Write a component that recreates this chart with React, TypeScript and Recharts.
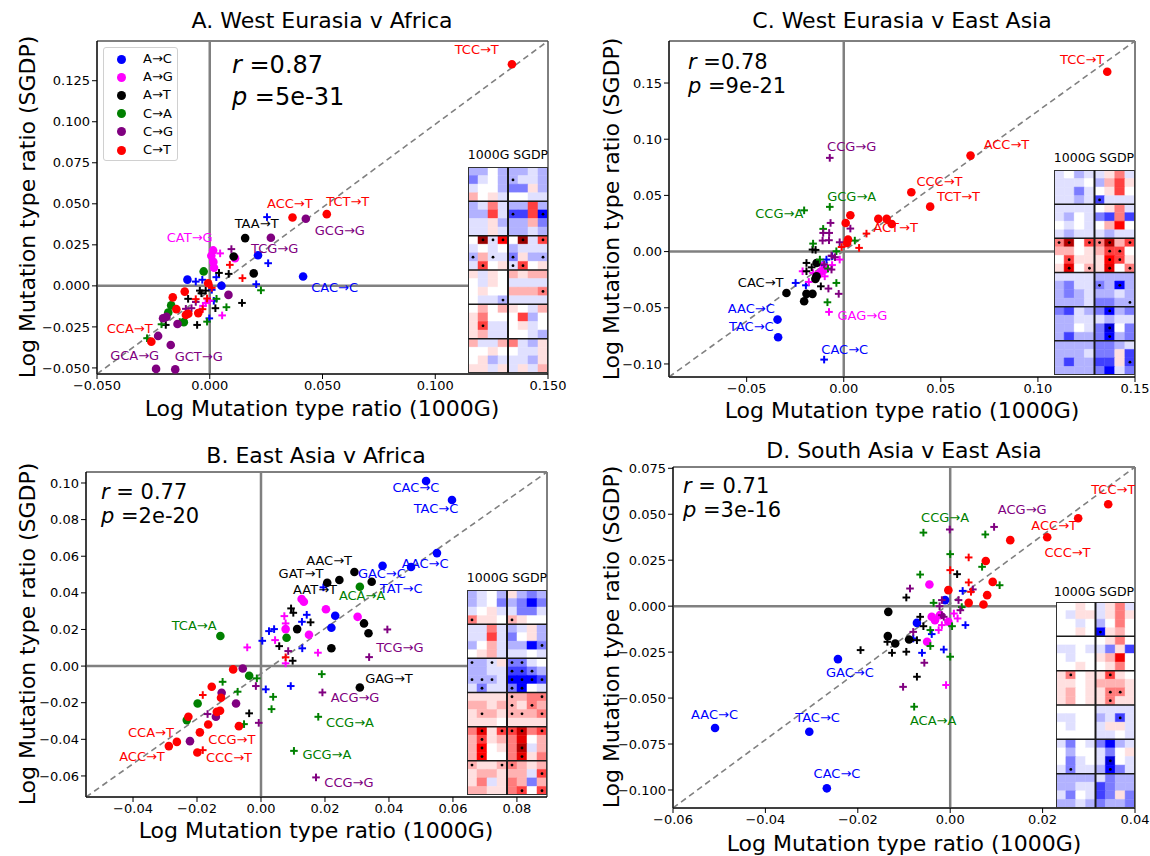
import React from 'react';
import { ScatterChart, Scatter, XAxis, YAxis, ReferenceLine, ReferenceArea } from 'recharts';

const FONT = '"DejaVu Sans", Verdana, sans-serif';
const CLASSES = ['A→C', 'A→G', 'A→T', 'C→A', 'C→G', 'C→T'];
const COLORS = ['#0000ff', '#ff00ff', '#000000', '#008000', '#800080', '#ff0000'];

type Pt = [number, string, number, number];
type Lab = [string, number, number, number];

// ---------------- Panel A: West Eurasia v Africa ----------------
const ptsA: Pt[] = [
  [0, 'o', 0.0414, 0.0057], [0, 'o', 0.0214, 0.0187], [0, 'o', -0.0099, 0.0038], [0, 'o', 0.0052, 0.0001],
  [0, '+', 0.0254, 0.0419], [0, '+', 0.0259, 0.0138], [0, '+', -0.0062, 0.0026], [0, '+', -0.0033, 0.0037], [0, '+', 0.0029, 0.0053], [0, '+', 0.0206, 0.001], [0, '+', -0.0002, -0.0198], [0, '+', 0.0009, -0.0024], [0, '+', 0.0018, -0.0091],
  [1, 'o', 0.0015, 0.0216], [1, 'o', 0.0007, 0.0183], [1, 'o', 0.0016, 0.0146], [1, 'o', 0.0019, 0.011], [1, 'o', 0.0112, 0.0169],
  [1, '+', 0.0046, 0.0198], [1, '+', 0.0055, -0.018], [1, '+', -0.003, -0.0122], [1, '+', 0.0, -0.009], [1, '+', -0.0044, -0.0155], [1, '+', -0.0018, -0.0104],
  [2, 'o', 0.0157, 0.0291], [2, 'o', 0.0106, 0.0179], [2, 'o', 0.0195, 0.0076],
  [2, '+', 0.0041, 0.0079], [2, '+', 0.0084, 0.0073], [2, '+', -0.0044, -0.0029], [2, '+', -0.0018, -0.0029], [2, '+', -0.0037, -0.0045], [2, '+', 0.0143, -0.0104], [2, '+', 0.0025, -0.0136], [2, '+', -0.0096, -0.0079], [2, '+', -0.0056, -0.0238], [2, '+', -0.0195, -0.0238],
  [3, 'o', -0.0027, 0.0088], [3, 'o', -0.0171, -0.0119], [3, 'o', -0.0184, -0.0162], [3, 'o', -0.0115, -0.0221],
  [3, '+', 0.0227, -0.0027], [3, '+', 0.003, -0.0079], [3, '+', 0.0074, -0.013], [3, '+', -0.0012, -0.0218], [3, '+', -0.0214, -0.0234], [3, '+', -0.0278, -0.0319], [3, '+', -0.0133, -0.022],
  [4, 'o', 0.0426, 0.0409], [4, 'o', 0.0271, 0.0293], [4, 'o', 0.0083, -0.0055], [4, 'o', -0.0207, -0.0197], [4, 'o', -0.0192, -0.0189], [4, 'o', -0.0143, -0.0232], [4, 'o', -0.0229, -0.0305], [4, 'o', -0.0173, -0.036], [4, 'o', -0.0238, -0.0506], [4, 'o', -0.0153, -0.0509],
  [4, '+', 0.0096, 0.0224], [4, '+', -0.0081, -0.0136], [4, '+', -0.0062, -0.0098], [4, '+', -0.0106, -0.014],
  [5, 'o', 0.134, 0.135], [5, 'o', 0.0367, 0.0417], [5, 'o', 0.0519, 0.0437], [5, 'o', -0.0007, 0.0016], [5, 'o', -0.0111, -0.0035], [5, 'o', -0.0164, -0.007], [5, 'o', -0.0148, -0.0142], [5, 'o', -0.0106, -0.0177], [5, 'o', -0.0095, -0.017], [5, 'o', -0.0051, -0.0166], [5, 'o', -0.0259, -0.034],
  [5, '+', 0.0089, 0.0128], [5, '+', 0.0145, 0.0047], [5, '+', -0.0012, -0.0077], [5, '+', -0.0062, -0.0081], [5, '+', -0.0032, -0.0142], [5, '+', 0.0009, -0.0012],
];
const labsA: Lab[] = [
  ['TCC→T', 5, 0.1184, 0.1439], ['ACC→T', 5, 0.0355, 0.05], ['TCT→T', 5, 0.0612, 0.0512], ['GCG→G', 4, 0.0577, 0.0335],
  ['TAA→T', 2, 0.0208, 0.0378], ['CAT→G', 1, -0.0089, 0.0293], ['TCG→G', 4, 0.0288, 0.0226], ['CAC→C', 0, 0.0554, -0.0012],
  ['CCA→T', 5, -0.0355, -0.0262], ['GCA→G', 4, -0.0333, -0.0427], ['GCT→G', 4, -0.0049, -0.0433],
];
const xTicksA = [-0.05, 0, 0.05, 0.1, 0.15];
const yTicksA = [-0.05, -0.025, 0, 0.025, 0.05, 0.075, 0.1, 0.125];

// ---------------- Panel C: West Eurasia v East Asia ----------------
const ptsC: Pt[] = [
  [0, 'o', -0.0341, -0.0605], [0, 'o', -0.0338, -0.0762],
  [0, '+', -0.0101, -0.0961], [0, '+', -0.0248, -0.0279], [0, '+', -0.0195, -0.03], [0, '+', -0.0089, -0.0071], [0, '+', -0.011, -0.012], [0, '+', -0.006, -0.004],
  [1, 'o', -0.0115, -0.0175], [1, 'o', -0.0098, -0.016], [1, 'o', -0.0132, -0.0205],
  [1, '+', -0.0076, -0.0537], [1, '+', -0.0021, -0.0071], [1, '+', -0.0212, -0.0175], [1, '+', -0.0123, -0.0101], [1, '+', -0.0158, -0.019], [1, '+', -0.0098, -0.022], [1, '+', -0.018, -0.027], [1, '+', -0.006, -0.012],
  [2, 'o', -0.0295, -0.0368], [2, 'o', -0.0204, -0.0442], [2, 'o', -0.0192, -0.0376], [2, 'o', -0.0161, -0.0376], [2, 'o', -0.0146, -0.0243], [2, 'o', -0.014, -0.0101], [2, 'o', -0.014, -0.022],
  [2, '+', -0.0161, 0.0018], [2, '+', -0.0192, -0.0101], [2, '+', -0.0192, -0.0175], [2, '+', -0.0118, -0.0309], [2, '+', -0.0145, 0.0015], [2, '+', -0.0165, -0.014],
  [3, '+', -0.0204, 0.0367], [3, '+', -0.0072, 0.0398], [3, '+', -0.0106, 0.0202], [3, '+', -0.0158, 0.0071], [3, '+', 0.0057, 0.0098], [3, '+', -0.0038, -0.0279], [3, '+', -0.0084, -0.0451], [3, '+', -0.0081, -0.0151], [3, '+', -0.0123, -0.0071], [3, '+', -0.0038, 0.0003],
  [4, '+', -0.0072, 0.0834], [4, '+', -0.0068, 0.0255], [4, '+', -0.0109, 0.0098], [4, '+', -0.0076, 0.0101], [4, '+', -0.0021, 0.0083], [4, '+', 0.0034, 0.0205], [4, '+', -0.0063, -0.0036], [4, '+', -0.0079, -0.0329], [4, '+', -0.0026, -0.0376], [4, '+', -0.0063, -0.016], [4, '+', -0.0106, 0.0166], [4, '+', -0.0075, 0.0166], [4, '+', -0.0101, -0.0115], [4, '+', -0.0045, -0.005],
  [5, 'o', 0.1357, 0.16], [5, 'o', 0.0653, 0.0854], [5, 'o', 0.0348, 0.0528], [5, 'o', 0.0445, 0.04], [5, 'o', 0.0178, 0.0291], [5, 'o', 0.0221, 0.0291], [5, 'o', 0.0247, 0.0246], [5, 'o', 0.0034, 0.0323], [5, 'o', 0.001, 0.0255], [5, 'o', 0.0022, 0.0107], [5, 'o', 0.0017, 0.0077],
  [5, '+', 0.0117, 0.016], [5, '+', 0.0079, 0.0033], [5, '+', -0.0011, 0.0041],
];
const labsC: Lab[] = [
  ['TCC→T', 5, 0.1228, 0.1708], ['ACC→T', 5, 0.0838, 0.0952], ['CCC→T', 5, 0.0493, 0.0623], ['TCT→T', 5, 0.0591, 0.0489],
  ['ACT→T', 5, 0.0267, 0.0214], ['CCG→G', 4, 0.0041, 0.0931], ['GCG→A', 3, 0.0041, 0.0492], ['CCG→A', 3, -0.0332, 0.0335],
  ['CAC→T', 2, -0.0428, -0.0279], ['AAC→C', 0, -0.0476, -0.051], ['TAC→C', 0, -0.0476, -0.0665], ['CAC→C', 0, 0.0005, -0.0872],
  ['GAG→G', 1, 0.0096, -0.0569],
];
const xTicksC = [-0.05, 0, 0.05, 0.1, 0.15];
const yTicksC = [-0.1, -0.05, 0, 0.05, 0.1, 0.15];

// ---------------- Panel B: East Asia v Africa ----------------
const ptsB: Pt[] = [
  [0, 'o', 0.0516, 0.1011], [0, 'o', 0.0597, 0.0907], [0, 'o', 0.055, 0.0617], [0, 'o', 0.038, 0.0548], [0, 'o', 0.0469, 0.0541], [0, 'o', 0.0232, 0.0275], [0, 'o', 0.022, 0.0209],
  [0, '+', 0.0143, 0.028], [0, '+', 0.0128, 0.0242], [0, '+', 0.0041, 0.0202], [0, '+', 0.0025, 0.0191], [0, '+', 0.0004, 0.0138], [0, '+', 0.0129, 0.0097], [0, '+', 0.0015, -0.0127], [0, '+', 0.0093, -0.0109], [0, '+', 0.0195, 0.043],
  [1, 'o', 0.0127, 0.0366], [1, 'o', 0.0134, 0.0351], [1, 'o', 0.0203, 0.031], [1, 'o', 0.0077, 0.0202], [1, 'o', 0.015, 0.0171], [1, 'o', 0.0302, 0.0269],
  [1, '+', 0.0073, 0.0273], [1, '+', 0.0077, 0.0233], [1, '+', 0.0044, 0.0142], [1, '+', -0.0043, 0.0102], [1, '+', 0.0178, 0.0073], [1, '+', 0.0077, 0.0015],
  [2, 'o', 0.0292, 0.0514], [2, 'o', 0.0245, 0.047], [2, 'o', 0.0207, 0.0455], [2, 'o', 0.0346, 0.0461], [2, 'o', 0.0322, 0.0233], [2, 'o', 0.0336, 0.0179], [2, 'o', 0.0113, 0.0202], [2, 'o', 0.022, 0.0097], [2, 'o', 0.0309, -0.0117],
  [2, '+', 0.0094, 0.0315], [2, '+', 0.0101, 0.0291], [2, '+', 0.0155, 0.0239], [2, '+', 0.0057, 0.0109], [2, '+', 0.0099, 0.0029], [2, '+', -0.0037, -0.0258],
  [3, 'o', 0.0309, 0.0433], [3, 'o', -0.0127, 0.0164], [3, 'o', 0.008, 0.0155], [3, 'o', -0.0037, -0.0053], [3, 'o', -0.0198, -0.0204], [3, 'o', -0.0232, -0.0295],
  [3, '+', 0.019, -0.0044], [3, '+', -0.0013, -0.0067], [3, '+', 0.0038, -0.0168], [3, '+', 0.0033, -0.0235], [3, '+', 0.0179, -0.0277], [3, '+', 0.0103, -0.0463], [3, '+', -0.012, -0.0086], [3, '+', -0.0073, -0.014], [3, '+', -0.0053, -0.0317],
  [4, 'o', -0.0057, -0.0013], [4, 'o', -0.0123, -0.0146], [4, 'o', -0.0078, -0.0204], [4, 'o', -0.0141, -0.0277], [4, 'o', -0.0222, -0.041],
  [4, '+', 0.0395, 0.02], [4, '+', 0.0338, 0.0049], [4, '+', 0.0085, 0.0082], [4, '+', -0.0016, -0.0109], [4, '+', 0.0192, -0.0144], [4, '+', -0.0007, -0.031], [4, '+', 0.0172, -0.0608], [4, '+', -0.0167, -0.0262],
  [5, 'o', -0.0087, -0.0018], [5, 'o', -0.0154, -0.0113], [5, 'o', -0.0125, -0.0173], [5, 'o', -0.0138, -0.025], [5, 'o', -0.0128, -0.0244], [5, 'o', -0.0227, -0.0277], [5, 'o', -0.0165, -0.0319], [5, 'o', -0.0191, -0.0362], [5, 'o', -0.0263, -0.0414], [5, 'o', -0.0288, -0.0437], [5, 'o', -0.0069, -0.0328], [5, 'o', -0.0199, -0.0472],
  [5, '+', -0.0182, -0.0158], [5, '+', -0.0182, -0.0459], [5, '+', 0.0077, 0.0048],
];
const labsB: Lab[] = [
  ['CAC→C', 0, 0.0484, 0.0973], ['TAC→C', 0, 0.0547, 0.0858], ['AAC→C', 0, 0.0513, 0.0563], ['GAC→C', 0, 0.0378, 0.0508],
  ['TAT→C', 0, 0.0438, 0.0426], ['AAC→T', 2, 0.0213, 0.0579], ['GAT→T', 2, 0.0125, 0.0508], ['AAT→T', 2, 0.0169, 0.0421],
  ['ACA→A', 3, 0.0316, 0.0388], ['TCA→A', 3, -0.0209, 0.0219], ['TCG→G', 4, 0.0434, 0.0104], ['GAG→T', 2, 0.04, -0.0066],
  ['ACG→G', 4, 0.0294, -0.0169], ['CCG→A', 3, 0.0278, -0.0306], ['GCG→A', 3, 0.0206, -0.0481], ['CCG→G', 4, 0.0275, -0.0634],
  ['CCA→T', 5, -0.0344, -0.036], ['ACC→T', 5, -0.0372, -0.0492], ['CCG→T', 5, -0.0091, -0.0399], ['CCC→T', 5, -0.01, -0.0497],
];
const xTicksB = [-0.04, -0.02, 0, 0.02, 0.04, 0.06, 0.08];
const yTicksB = [-0.06, -0.04, -0.02, 0, 0.02, 0.04, 0.06, 0.08, 0.1];

// ---------------- Panel D: South Asia v East Asia ----------------
const ptsD: Pt[] = [
  [0, 'o', -0.0243, -0.0288], [0, 'o', -0.0509, -0.0663], [0, 'o', -0.0305, -0.0683], [0, 'o', -0.0267, -0.0991], [0, 'o', -0.0072, -0.0091], [0, 'o', -0.0011, 0.0033],
  [0, '+', 0.0027, 0.0083], [0, '+', 0.0033, -0.0103], [0, '+', -0.0014, -0.0236], [0, '+', -0.0061, -0.0254], [0, '+', -0.004, -0.0152], [0, '+', -0.008, -0.0176],
  [1, 'o', -0.0045, 0.0118], [1, 'o', -0.004, -0.0058], [1, 'o', -0.0033, -0.0076], [1, 'o', -0.0022, -0.0049], [1, 'o', -0.0004, -0.0085], [1, 'o', -0.005, -0.0194],
  [1, '+', 0.0016, -0.0067], [1, '+', -0.0018, -0.0103], [1, '+', -0.0025, -0.013], [1, '+', -0.0009, -0.0429], [1, '+', 0.0008, -0.004],
  [2, 'o', -0.0134, -0.0031], [2, 'o', -0.0135, -0.0163], [2, 'o', -0.0119, -0.0203], [2, 'o', -0.0089, -0.0181],
  [2, '+', 0.0015, 0.0174], [2, '+', -0.0095, 0.0047], [2, '+', -0.0065, -0.0058], [2, '+', -0.0058, -0.0109], [2, '+', -0.0072, -0.0185], [2, '+', -0.0126, -0.0254], [2, '+', -0.0095, -0.0248], [2, '+', -0.0072, -0.0384], [2, '+', -0.0194, -0.0239], [2, '+', -0.0136, -0.0194],
  [3, '+', -0.0058, 0.04], [3, '+', 0.0076, 0.039], [3, '+', 0.0069, 0.0214], [3, '+', 0.0107, 0.0114], [3, '+', -0.0065, 0.0172], [3, '+', 0.0, 0.0283], [3, '+', -0.0036, 0.0018], [3, '+', -0.0043, -0.013], [3, '+', -0.0043, -0.0217], [3, '+', 0.0, -0.0275], [3, '+', 0.0004, -0.0109], [3, '+', -0.0078, -0.0547], [3, '+', 0.0025, -0.0005],
  [4, '+', 0.0095, 0.0431], [4, '+', -0.0001, 0.0417], [4, '+', -0.0087, 0.0096], [4, '+', 0.0049, 0.0091], [4, '+', -0.0018, 0.0033], [4, '+', -0.0023, 0.0], [4, '+', 0.0018, 0.0033], [4, '+', 0.0022, -0.0022], [4, '+', -0.0014, -0.0058], [4, '+', -0.0056, -0.0308], [4, '+', -0.0102, -0.0439], [4, '+', -0.008, -0.014], [4, '+', -0.0018, -0.0049],
  [5, 'o', 0.0342, 0.0554], [5, 'o', 0.0277, 0.0478], [5, 'o', 0.021, 0.0375], [5, 'o', 0.013, 0.0359], [5, 'o', 0.0077, 0.0246], [5, 'o', 0.0092, 0.0132], [5, 'o', 0.008, 0.006], [5, 'o', 0.004, 0.0018], [5, 'o', 0.0072, 0.0009], [5, 'o', -0.0004, 0.0087],
  [5, '+', 0.004, 0.0265], [5, '+', 0.004, 0.0129], [5, '+', 0.0045, 0.0078], [5, '+', 0.0, 0.0196],
];
const labsD: Lab[] = [
  ['TCC→T', 5, 0.0353, 0.0636], ['ACC→T', 5, 0.0225, 0.044], ['CCC→T', 5, 0.0254, 0.0293], ['ACG→G', 4, 0.0156, 0.0525],
  ['CCG→A', 3, -0.0011, 0.0484], ['GAC→C', 0, -0.0217, -0.0359], ['AAC→C', 0, -0.051, -0.0587], ['TAC→C', 0, -0.0287, -0.0603],
  ['CAC→C', 0, -0.0245, -0.0913], ['ACA→A', 3, -0.0037, -0.062],
];
const xTicksD = [-0.06, -0.04, -0.02, 0, 0.02, 0.04];
const yTicksD = [-0.1, -0.075, -0.05, -0.025, 0, 0.025, 0.05, 0.075];

// ---------------- Heatmap insets (4 cols 1000G + 4 cols SGDP, 24 rows) ----------------
const heatA: number[][] = [
  [-2, -2, 0, -2, -2, -2, -1, -2], [-3, -1, 0, -2, -2, -1, -1, -2], [-1, 0, 0, -2, -3, -3, 1, -2], [2, 0, 1, -1, 0, 0, -1, -1],
  [-2, -1, 3, -1, -2, -2, 4, -2], [-2, -2, 4, -1, -4, -4, 4, -5], [-1, -1, 1, -2, -2, -2, 2, -3], [-1, -1, 1, -1, -2, -2, -1, -2],
  [0, 9, -1, 5, 0, 9, -1, 4], [-1, 0, -1, 0, -2, -1, -1, -1], [-2, 2, -1, -1, -3, 1, -2, -2], [-1, 4, 0, 1, -1, 4, 0, 1],
  [1, -1, 1, 0, 2, 1, 2, 2], [0, -1, 1, 0, -1, -1, -1, -1], [0, 1, 0, 0, 2, 2, 2, 3], [0, -1, -1, -2, -1, -1, -1, -1],
  [0, 2, 0, 2, 1, 0, -1, 2], [1, 3, 0, 0, 0, 4, -2, 0], [1, 4, -1, -1, 0, 1, -1, 0], [1, 2, -1, -1, 0, 0, -1, -2],
  [2, -1, -1, 2, 3, -1, -2, 1], [0, 0, 1, 0, 0, -1, -1, 1], [0, 1, -2, -1, -1, -1, -2, 1], [1, 1, -1, 1, -1, 1, -1, 2],
];
const sigA: number[][] = [[1, 4], [5, 4], [5, 7], [8, 1], [8, 2], [8, 3], [8, 5], [8, 7], [10, 0], [10, 2], [10, 4], [10, 7], [11, 1], [11, 4], [11, 5], [14, 7], [15, 3], [18, 1]];

const heatC: number[][] = [
  [-1, 0, -2, -1, -1, 1, 3, -1], [-1, -1, -1, 0, -2, 2, 4, 1], [-1, -1, -3, -1, 0, 1, 4, 0], [-1, -1, -2, -1, -4, -1, -1, -1],
  [-1, -1, -1, -1, 0, 1, 3, -1], [-1, -2, 0, -1, -3, -4, 3, -4], [0, -1, 0, -1, 0, 2, 5, 0], [-1, -2, -1, -1, -1, -2, -1, -1],
  [3, 8, 0, 4, 3, 8, 2, 4], [2, 2, 0, 1, 2, 4, 4, 0], [0, 4, 1, 1, 1, 5, 4, 1], [1, 6, 0, 2, 1, 6, 0, 3],
  [-1, -1, -1, -1, -2, -2, -2, -2], [-2, -3, -1, -1, -3, -2, -5, -2], [-2, -3, -2, -1, -2, -2, -1, -2], [-2, -2, -2, -1, -3, -3, -2, -2],
  [-3, -4, -1, -2, -3, -5, -2, -3], [-2, -2, -1, -1, -1, -2, -1, -1], [-2, -2, 0, -1, -3, -6, 0, -3], [-2, -4, -2, -2, -3, -5, -2, -3],
  [-2, -2, -2, -2, -3, -3, -2, -1], [-2, -2, -2, -1, -3, -3, 1, -4], [-2, -4, -2, -2, -4, -4, 1, -4], [-2, -2, -2, -2, -3, -5, -1, -3],
];
const sigC: number[][] = [[3, 4], [8, 0], [8, 1], [8, 3], [8, 4], [8, 5], [8, 7], [9, 5], [9, 6], [10, 1], [10, 5], [10, 6], [11, 1], [11, 3], [11, 5], [11, 7], [13, 4], [13, 6], [15, 7], [16, 5], [18, 5], [19, 5], [22, 7]];

const heatB: number[][] = [
  [-2, -1, 0, -2, 1, -2, -3, -2], [-2, -1, 0, -3, -2, -3, -5, -3], [-1, 0, 1, -1, -1, -3, -3, -1], [3, 1, 1, 0, 2, 1, 0, 0],
  [-1, -1, 3, -1, -2, -1, 1, -2], [-1, -1, 4, -1, -3, 0, 1, -2], [-2, 0, 2, -1, -2, -2, -5, -3], [0, 1, 2, -1, -1, -1, 0, -1],
  [-2, -2, -1, 1, -3, -3, -1, 0], [-2, -2, -1, -1, -4, -4, -3, -2], [-2, -2, -2, -1, -5, -5, -5, -4], [-1, -3, -1, -1, -3, -5, 0, -1],
  [1, 1, 1, 1, 2, 2, 3, 3], [2, 2, 1, 2, 2, 1, 3, 2], [1, 2, 2, 1, 2, 2, 2, 3], [1, 1, 1, 0, 1, 1, 1, 1],
  [3, 6, 1, 4, 4, 7, 3, 4], [2, 4, 1, 2, 3, 6, 0, 2], [2, 5, 0, 1, 3, 8, -1, 2], [2, 5, 0, 0, 3, 6, 1, 3],
  [2, 1, 1, 2, 3, 2, 1, 2], [1, 2, 2, 1, 2, 2, -1, 4], [1, 3, -1, 1, 3, 2, -3, 2], [2, 2, 1, 1, 3, 4, 0, 4],
];
const sigB: number[][] = [[3, 0], [3, 4], [6, 7], [8, 0], [8, 2], [8, 4], [8, 5], [9, 4], [9, 5], [9, 6], [10, 0], [10, 1], [10, 2], [10, 4], [10, 5], [10, 6], [10, 7], [11, 1], [11, 4], [11, 5], [12, 4], [12, 7], [13, 4], [13, 6], [14, 1], [14, 4], [14, 5], [14, 7], [16, 1], [16, 3], [16, 4], [16, 5], [16, 7], [17, 1], [18, 1], [18, 5], [19, 1], [19, 5], [20, 0], [20, 3], [20, 4], [21, 7], [23, 5], [23, 7]];

const heatD: number[][] = [
  [0, 0, 1, 0, -1, 1, 3, -1], [0, -1, 1, 1, -1, 1, 3, 1], [0, 0, -1, 0, -2, 0, 3, 0], [0, 0, 1, 0, -5, 1, 2, 0],
  [0, 0, 0, 0, 0, 1, 3, 0], [-1, -1, 0, -1, -1, -3, 1, -4], [0, -1, 0, 0, 1, 2, 5.5, 0], [0, 0, 1, 0, 0, 1, 3, 0],
  [1, 3, 0, 1, 1, 4, 1, 0], [1, 1, 0, 1, 2, 2, 2, 1], [1, 2, 0, 1, 1, 3, 3, 1], [1, 2, 0, 1, 1, 3, 1, 1],
  [0, 0, 0, 0, -1, -1, -1, -1], [-1, -1, 0, 0, -2, -1, -4, -1], [0, -1, 0, 0, -1, 1, 1, -1], [0, 0, 0, 0, -1, -1, 0, -1],
  [-1, -3, 0, -1, -3, -5, -2, -1], [0, -2, 0, 0, -1, -3, 0, 1], [0, -3, -1, 0, -1, -6, 0, -1], [-1, -3, -1, -1, -2, -5, -3, -1],
  [-2, -2, -2, -2, -1, -3, -2, -2], [-2, -2, -1, -1, -4, -3, -2, -2], [-1, -3, 0, -1, -4, -3, 1, -3], [-2, -2, -1, -2, -3, -2, -2, -3],
];
const sigD: number[][] = [[3, 4], [8, 1], [8, 5], [10, 5], [10, 6], [11, 5], [13, 6], [18, 5], [19, 1], [19, 5]];

// ---------------- helpers ----------------
// seismic-like colormap; |v| = 5 gives pure blue/red, |v| = 10 the darkest end
function seismic(v: number): string {
  const a = Math.min(10, Math.abs(v));
  let r: number, g: number, b: number;
  if (a <= 5) {
    const k = Math.pow(a / 5, 1.3);
    if (v < 0) { r = 1 - k; g = 1 - k; b = 1; } else { r = 1; g = 1 - k; b = 1 - k; }
  } else {
    const k = (a - 5) / 5;
    if (v < 0) { r = 0; g = 0; b = 1 - 0.7 * k; } else { r = 1 - 0.5 * k; g = 0; b = 0; }
  }
  const h = (x: number) => Math.round(x * 255).toString(16).padStart(2, '0');
  return '#' + h(r) + h(g) + h(b);
}

const fmt = (d: number) => (v: number) => {
  const s = Math.abs(v).toFixed(d);
  return (v < -1e-9 ? '\u2212' : '') + s;
};

const circleShape = (color: string) => (p: any) => <circle cx={p.cx} cy={p.cy} r={4.3} fill={color} />;
const plusShape = (color: string) => (p: any) => (
  <g>
    <line x1={p.cx - 3.8} y1={p.cy} x2={p.cx + 3.8} y2={p.cy} stroke={color} strokeWidth={2} />
    <line x1={p.cx} y1={p.cy - 3.8} x2={p.cx} y2={p.cy + 3.8} stroke={color} strokeWidth={2} />
  </g>
);
const labelShape = (p: any) => (
  <text x={p.cx} y={p.cy} textAnchor="middle" dominantBaseline="central" fontSize={13} fontFamily={FONT} fill={COLORS[p.payload.c]}>
    {p.payload.t}
  </text>
);
const sigShape = (p: any) => <circle cx={p.cx} cy={p.cy} r={1.4} fill="#000" />;

interface PanelCfg {
  left: number; top: number;
  margin: { top: number; right: number; bottom: number; left: number };
  xd: [number, number]; yd: [number, number];
  xt: number[]; yt: number[]; xdig: number; ydig: number;
  pts: Pt[]; labs: Lab[];
}

const tickStyle = { fill: '#000', fontSize: 13, fontFamily: FONT };

function Panel({ cfg }: { cfg: PanelCfg }) {
  const { left, top, margin, xd, yd, xt, yt, xdig, ydig, pts, labs } = cfg;
  const series: React.ReactNode[] = [];
  for (let c = 0; c < 6; c++) {
    for (const m of ['o', '+']) {
      const data = pts.filter((p) => p[0] === c && p[1] === m).map((p) => ({ x: p[2], y: p[3] }));
      if (data.length) {
        series.push(
          <Scatter key={c + m} data={data} isAnimationActive={false}
            shape={m === 'o' ? circleShape(COLORS[c]) : plusShape(COLORS[c])} />
        );
      }
    }
  }
  const labData = labs.map((l) => ({ x: l[2], y: l[3], t: l[0], c: l[1] }));
  return (
    <div style={{ position: 'absolute', left, top }}>
      <ScatterChart width={575} height={428} margin={margin}>
        <XAxis type="number" dataKey="x" domain={xd} ticks={xt} interval={0} tickFormatter={fmt(xdig)} allowDataOverflow
          height={30} stroke="#000" tick={tickStyle} tickSize={5} />
        <YAxis type="number" dataKey="y" domain={yd} ticks={yt} interval={0} tickFormatter={fmt(ydig)} allowDataOverflow
          width={60} stroke="#000" tick={tickStyle} tickSize={5} />
        <ReferenceArea x1={xd[0]} x2={xd[1]} y1={yd[0]} y2={yd[1]} fill="none" fillOpacity={0} stroke="#000" strokeWidth={1} />
        <ReferenceLine segment={[{ x: xd[0], y: yd[0] }, { x: xd[1], y: yd[1] }]} stroke="#808080" strokeDasharray="6 4" strokeWidth={1.6} />
        <ReferenceLine x={0} stroke="#808080" strokeWidth={2.5} />
        <ReferenceLine y={0} stroke="#808080" strokeWidth={2.5} />
        {series}
        <Scatter data={labData} isAnimationActive={false} shape={labelShape} />
      </ScatterChart>
    </div>
  );
}

function Inset({ left, top, w, h, heat, sig }: { left: number; top: number; w: number; h: number; heat: number[][]; sig: number[][] }) {
  const cells: React.ReactNode[] = [];
  heat.forEach((row, r) => row.forEach((v, c) => {
    const col = seismic(v);
    cells.push(<ReferenceArea key={r + '-' + c} x1={c} x2={c + 1} y1={r} y2={r + 1} fill={col} fillOpacity={1} stroke={col} strokeWidth={0.5} />);
  }));
  return (
    <div style={{ position: 'absolute', left, top, width: w, height: h, background: '#fff' }}>
      <ScatterChart width={w} height={h} margin={{ top: 0, right: 0, bottom: 0, left: 0 }}>
        <XAxis type="number" dataKey="x" domain={[0, 8]} hide allowDataOverflow />
        <YAxis type="number" dataKey="y" domain={[0, 24]} reversed hide allowDataOverflow />
        {cells}
        {[4, 8, 12, 16, 20].map((y) => <ReferenceLine key={y} y={y} stroke="#1a1a1a" strokeWidth={1.5} />)}
        <ReferenceLine x={4} stroke="#1a1a1a" strokeWidth={2} />
        <ReferenceArea x1={0} x2={8} y1={0} y2={24} fill="none" fillOpacity={0} stroke="#333" strokeWidth={2} />
        <Scatter data={sig.map(([r, c]) => ({ x: c + 0.5, y: r + 0.5 }))} isAnimationActive={false} shape={sigShape} />
      </ScatterChart>
    </div>
  );
}

const panels: PanelCfg[] = [
  { left: 0, top: 0, margin: { top: 41, right: 27, bottom: 24, left: 37 }, xd: [-0.05, 0.15], yd: [-0.0537, 0.1492], xt: xTicksA, yt: yTicksA, xdig: 3, ydig: 3, pts: ptsA, labs: labsA },
  { left: 575, top: 0, margin: { top: 41, right: 15, bottom: 21, left: 34 }, xd: [-0.09, 0.15], yd: [-0.1116, 0.1874], xt: xTicksC, yt: yTicksC, xdig: 2, ydig: 2, pts: ptsC, labs: labsC },
  { left: 0, top: 428, margin: { top: 44, right: 28, bottom: 29, left: 26 }, xd: [-0.0547, 0.0894], yd: [-0.0715, 0.106], xt: xTicksB, yt: yTicksB, xdig: 2, ydig: 2, pts: ptsB, labs: labsB },
  { left: 575, top: 428, margin: { top: 39, right: 15, bottom: 18, left: 38 }, xd: [-0.06, 0.04], yd: [-0.1098, 0.0757], xt: xTicksD, yt: yTicksD, xdig: 2, ydig: 3, pts: ptsD, labs: labsD },
];

const centered = (x: number, y: number, size: number, extra: React.CSSProperties = {}): React.CSSProperties => ({
  position: 'absolute', left: x, top: y, transform: 'translate(-50%, -50%)', fontSize: size, lineHeight: 1,
  whiteSpace: 'nowrap', fontFamily: FONT, color: '#000', ...extra,
});

// two-line statistics block: first line centred at y, lines `gap` px apart
const statBlock = (x: number, y: number, size: number, gap: number): React.CSSProperties => ({
  position: 'absolute', left: x, top: y - gap / 2, fontSize: size, lineHeight: gap + 'px',
  whiteSpace: 'nowrap', fontFamily: FONT, color: '#000',
});

const rot = { transform: 'translate(-50%, -50%) rotate(-90deg)' };

export default function App() {
  return (
    <div style={{ position: 'absolute', left: 0, top: 0, width: 1150, height: 856, background: '#fff', fontFamily: FONT, overflow: 'hidden' }}>
      {panels.map((p, i) => <Panel key={i} cfg={p} />)}

      <Inset left={468} top={167} w={80} h={206} heat={heatA} sig={sigA} />
      <Inset left={1054} top={170} w={81} h={205} heat={heatC} sig={sigC} />
      <Inset left={467} top={590} w={80} h={205} heat={heatB} sig={sigB} />
      <Inset left={1056} top={602} w={79} h={206} heat={heatD} sig={sigD} />

      <div style={centered(508, 155, 12.5)}>1000G SGDP</div>
      <div style={centered(1094, 158, 12.5)}>1000G SGDP</div>
      <div style={centered(507, 578, 12.5)}>1000G SGDP</div>
      <div style={centered(1094, 592, 12.5)}>1000G SGDP</div>

      <div style={centered(322, 21, 22)}>A. West Eurasia v Africa</div>
      <div style={centered(902, 21, 22)}>C. West Eurasia v East Asia</div>
      <div style={centered(316, 456, 22)}>B. East Asia v Africa</div>
      <div style={centered(904, 451, 22)}>D. South Asia v East Asia</div>

      <div style={centered(322, 409, 22)}>Log Mutation type ratio (1000G)</div>
      <div style={centered(902, 411, 22)}>Log Mutation type ratio (1000G)</div>
      <div style={centered(316, 831, 22)}>Log Mutation type ratio (1000G)</div>
      <div style={centered(904, 844, 22)}>Log Mutation type ratio (1000G)</div>

      <div style={centered(28, 207, 22, rot)}>Log Mutation type ratio (SGDP)</div>
      <div style={centered(612, 209, 22, rot)}>Log Mutation type ratio (SGDP)</div>
      <div style={centered(28, 634, 22, rot)}>Log Mutation type ratio (SGDP)</div>
      <div style={centered(612, 637, 22, rot)}>Log Mutation type ratio (SGDP)</div>

      <div style={statBlock(232, 65, 24, 32)}><i>r</i> =0.87<br /><i>p</i> =5e-31</div>
      <div style={statBlock(688, 62, 21, 24.5)}><i>r</i> =0.78<br /><i>p</i> =9e-21</div>
      <div style={statBlock(101, 492, 21, 24.5)}><i>r</i> = 0.77<br /><i>p</i> =2e-20</div>
      <div style={statBlock(683, 486, 21, 24.5)}><i>r</i> = 0.71<br /><i>p</i> =3e-16</div>

      <div style={{ position: 'absolute', left: 103, top: 47, width: 75, height: 114, border: '1px solid #d0d0d0', borderRadius: 3, background: '#fff', boxSizing: 'border-box' }}>
        {CLASSES.map((c, i) => (
          <div key={c} style={{ position: 'absolute', left: 0, top: 2 + i * 18.2, height: 18, width: 73 }}>
            <div style={{ position: 'absolute', left: 13, top: 4.5, width: 9, height: 9, borderRadius: '50%', background: COLORS[i] }} />
            <div style={{ position: 'absolute', left: 39, top: 2, fontSize: 13, lineHeight: '14px', fontFamily: FONT, color: '#000' }}>{c}</div>
          </div>
        ))}
      </div>
    </div>
  );
}
